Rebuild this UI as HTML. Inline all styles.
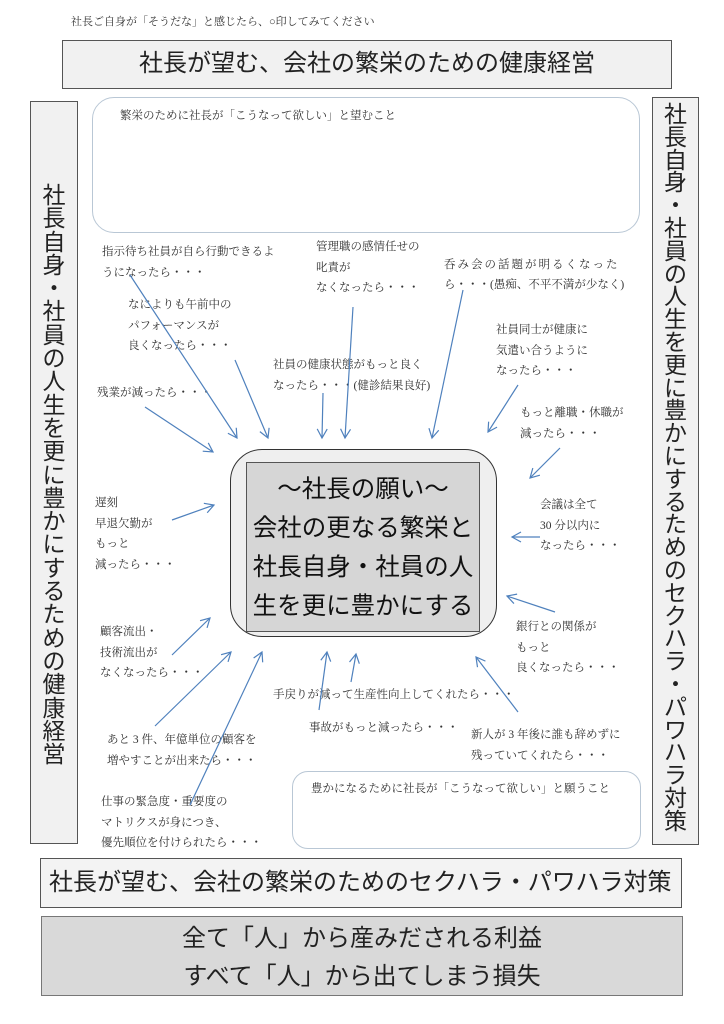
<!DOCTYPE html>
<html><head><meta charset="utf-8"><style>
body{margin:0;background:#fff;}
#p{position:relative;width:724px;height:1024px;overflow:hidden;font-family:"Liberation Serif","Noto Serif CJK SC","Noto Sans CJK JP",serif;color:#222;}
.a{position:absolute;}
.t{position:absolute;font-size:11.5px;line-height:20.5px;white-space:nowrap;color:#333;}
.box{position:absolute;box-sizing:border-box;}
.v{font-family:"Liberation Sans","Noto Sans CJK JP",sans-serif;font-size:23px;text-align:center;}
.v span{display:block;height:23.3px;line-height:23.3px;}
.r span{height:22.8px;line-height:22.8px;}
.big{font-family:"Liberation Sans","Noto Sans CJK JP",sans-serif;}
</style></head><body><div id="p">
<div class="t" style="left:71px;top:12px;font-size:11px;">社長ご自身が「そうだな」と感じたら、○印してみてください</div>
<div class="box big" style="left:62px;top:40px;width:610px;height:49px;border:1.5px solid #555;background:#f1f1f1;font-size:24px;line-height:46px;text-align:center;">社長が望む、会社の繁栄のための健康経営</div>
<div class="box" style="left:92px;top:97px;width:548px;height:136px;border:1px solid #b9c7d5;border-radius:22px;"></div>
<div class="t" style="left:120px;top:106px;">繁栄のために社長が「こうなって欲しい」と望むこと</div>
<div class="box v" style="left:30px;top:101px;width:48px;height:743px;border:1.5px solid #555;background:#f1f1f1;padding-top:82px;"><span>社</span><span>長</span><span>自</span><span>身</span><span>・</span><span>社</span><span>員</span><span>の</span><span>人</span><span>生</span><span>を</span><span>更</span><span>に</span><span>豊</span><span>か</span><span>に</span><span>す</span><span>る</span><span>た</span><span>め</span><span>の</span><span>健</span><span>康</span><span>経</span><span>営</span></div>
<div class="box v r" style="left:652px;top:97px;width:47px;height:748px;border:1.5px solid #555;background:#f1f1f1;padding-top:5px;"><span>社</span><span>長</span><span>自</span><span>身</span><span>・</span><span>社</span><span>員</span><span>の</span><span>人</span><span>生</span><span>を</span><span>更</span><span>に</span><span>豊</span><span>か</span><span>に</span><span>す</span><span>る</span><span>た</span><span>め</span><span>の</span><span>セ</span><span>ク</span><span>ハ</span><span>ラ</span><span>・</span><span>パ</span><span>ワ</span><span>ハ</span><span>ラ</span><span>対</span><span>策</span></div>

<div class="box" style="left:230px;top:449px;width:267px;height:188px;border:1.5px solid #333;border-radius:32px;background:#efefef;"></div>
<div class="box big" style="left:246px;top:462px;width:234px;height:170px;border:1.5px solid #555;background:#d6d6d6;font-size:24.5px;line-height:39px;text-align:center;padding-top:7px;color:#111;">～社長の願い～<br>会社の更なる繁栄と<br>社長自身・社員の人<br>生を更に豊かにする</div>

<div class="box" style="left:292px;top:771px;width:349px;height:78px;border:1px solid #b9c7d5;border-radius:16px;"></div>
<div class="t" style="left:311px;top:779px;">豊かになるために社長が「こうなって欲しい」と願うこと</div>

<div class="box big" style="left:40px;top:858px;width:642px;height:50px;border:1.5px solid #555;background:#f3f3f3;font-size:24px;line-height:47px;padding-left:8px;">社長が望む、会社の繁栄のためのセクハラ・パワハラ対策</div>
<div class="box big" style="left:41px;top:916px;width:642px;height:80px;border:1.5px solid #777;background:#d9d9d9;font-size:24px;line-height:38px;text-align:center;padding-top:3px;">全て「人」から産みだされる利益<br>すべて「人」から出てしまう損失</div>

<div class="t" style="left:102px;top:242px;">指示待ち社員が自ら行動できるよ<br>うになったら・・・</div>
<div class="t" style="left:316px;top:237px;">管理職の感情任せの<br>叱責が<br>なくなったら・・・</div>
<div class="t" style="left:444px;top:255px;letter-spacing:2px;">呑み会の話題が明るくなった</div>
<div class="t" style="left:444px;top:275px;">ら・・・(愚痴、不平不満が少なく)</div>
<div class="t" style="left:128px;top:295px;">なによりも午前中の<br>パフォーマンスが<br>良くなったら・・・</div>
<div class="t" style="left:496px;top:320px;">社員同士が健康に<br>気遣い合うように<br>なったら・・・</div>
<div class="t" style="left:273px;top:355px;">社員の健康状態がもっと良く<br>なったら・・・(健診結果良好)</div>
<div class="t" style="left:97px;top:383px;">残業が減ったら・・・</div>
<div class="t" style="left:520px;top:403px;">もっと離職・休職が<br>減ったら・・・</div>
<div class="t" style="left:95px;top:493px;">遅刻<br>早退欠勤が<br>もっと<br>減ったら・・・</div>
<div class="t" style="left:540px;top:495px;">会議は全て<br>30 分以内に<br>なったら・・・</div>
<div class="t" style="left:100px;top:622px;">顧客流出・<br>技術流出が<br>なくなったら・・・</div>
<div class="t" style="left:516px;top:617px;">銀行との関係が<br>もっと<br>良くなったら・・・</div>
<div class="t" style="left:273px;top:685px;">手戻りが減って生産性向上してくれたら・・・</div>
<div class="t" style="left:309px;top:718px;">事故がもっと減ったら・・・</div>
<div class="t" style="left:107px;top:730px;">あと 3 件、年億単位の顧客を<br>増やすことが出来たら・・・</div>
<div class="t" style="left:471px;top:725px;">新人が 3 年後に誰も辞めずに<br>残っていてくれたら・・・</div>
<div class="t" style="left:101px;top:792px;">仕事の緊急度・重要度の<br>マトリクスが身につき、<br>優先順位を付けられたら・・・</div>

<svg class="a" style="left:0;top:0" width="724" height="1024" viewBox="0 0 724 1024">
<defs><marker id="m" markerWidth="12" markerHeight="12" refX="10" refY="6" orient="auto" markerUnits="userSpaceOnUse"><path d="M1,1 L10,6 L1,11" fill="none" stroke="#4f81bd" stroke-width="1.2"/></marker></defs>
<g stroke="#4f81bd" stroke-width="1.2" fill="none" marker-end="url(#m)">
<line x1="130" y1="275" x2="237" y2="438"/>
<line x1="235" y1="360" x2="268" y2="438"/>
<line x1="145" y1="407" x2="213" y2="452"/>
<line x1="323" y1="393" x2="322" y2="438"/>
<line x1="353" y1="307" x2="345" y2="438"/>
<line x1="463" y1="290" x2="432" y2="438"/>
<line x1="518" y1="385" x2="488" y2="432"/>
<line x1="560" y1="448" x2="530" y2="478"/>
<line x1="172" y1="520" x2="214" y2="505"/>
<line x1="540" y1="537" x2="512" y2="537"/>
<line x1="172" y1="655" x2="210" y2="618"/>
<line x1="555" y1="612" x2="507" y2="596"/>
<line x1="155" y1="726" x2="231" y2="652"/>
<line x1="190" y1="805" x2="262" y2="652"/>
<line x1="319" y1="710" x2="327" y2="652"/>
<line x1="351" y1="682" x2="356" y2="654"/>
<line x1="518" y1="712" x2="476" y2="657"/>
</g></svg>
</div></body></html>
